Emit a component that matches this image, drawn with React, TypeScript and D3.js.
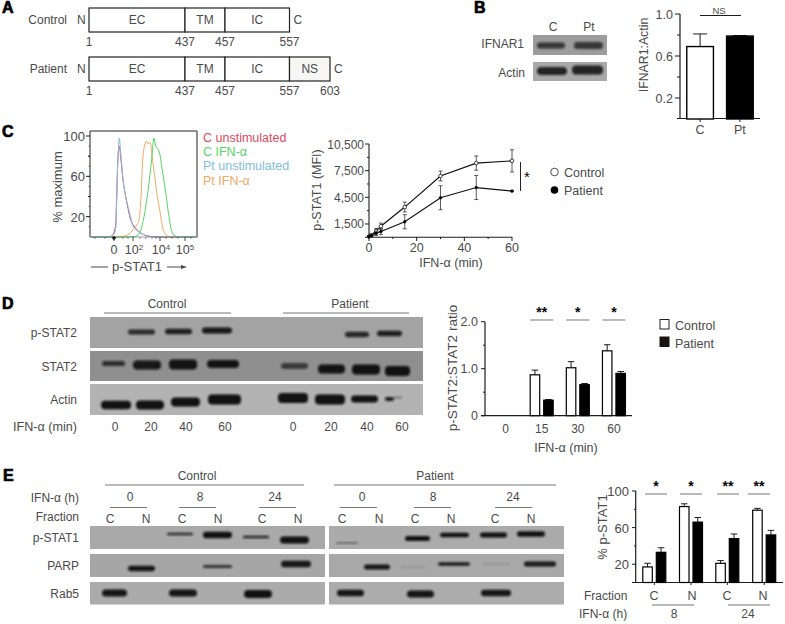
import React from "react";
import * as d3 from "d3";

const W = 785, H = 624;
const INK = "#4a4a4a", AXIS = "#1c1c1c", GREY = "#777";
const FONT = "'Liberation Sans', Arial, sans-serif";

// Panel A
const residues = [1, 437, 457, 557, 603];
const controlDomains = ["EC", "TM", "IC"];
const patientDomains = ["EC", "TM", "IC", "NS"];

// Panel B
const bCats = ["C", "Pt"];
const bValues = [0.69, 0.79];
const bTops = [0.81, 0.795];
const bTicks = [1.0, 0.6, 0.2];
const bMinor = [0.8, 0.4];

// Panel C flow histogram: channel (0-107) and % maximum
const flowBlueX = [0, 18, 22, 25, 26.5, 28, 29.3, 31, 33, 35, 38, 41, 43, 47, 52, 57, 65, 107];
const flowBlueY = [0, 0, 0.5, 5, 30, 80, 98, 80, 58, 43, 30, 18, 11, 6, 3, 1, 0, 0];
const flowRedX = [0, 18, 22, 25, 26.5, 28, 29.3, 31, 33, 35, 38, 41, 43, 47, 52, 57, 65, 107];
const flowRedY = [0, 0, 1, 8, 36, 78, 90, 76, 56, 44, 28, 16, 12, 7, 3, 1, 0, 0];
const flowOrangeX = [0, 30, 38, 43, 47, 49, 51, 53, 55, 56.5, 58, 60, 62, 65, 67, 70, 73, 76, 80, 107];
const flowOrangeY = [0, 0, 2, 7, 12, 17, 40, 80, 92, 95, 92, 94, 80, 58, 42, 25, 8, 2, 0, 0];
const flowGreenX = [0, 40, 47, 50, 53, 57, 60, 62, 64, 66, 69, 72, 76, 79, 82, 85, 90, 107];
const flowGreenY = [0, 0, 1, 5, 15, 38, 62, 80, 98, 90, 85, 68, 42, 20, 5, 1, 0, 0];
const flowLegend = ["C unstimulated", "C IFN-α", "Pt unstimulated", "Pt IFN-α"];
const flowColors = ["#dc4a5c", "#57d468", "#83bce0", "#f0aa66"];

// Panel C time course
const minutes = [0, 1, 3, 5, 15, 30, 45, 60];
const controlMfi = [100, 250, 700, 1250, 3400, 6900, 8350, 8600];
const controlErr = [50, 100, 300, 350, 550, 550, 800, 1250];
const patientMfi = [80, 200, 450, 650, 1750, 4450, 5600, 5200];
const patientErr = [40, 100, 250, 350, 800, 1350, 1350, 60];
const mfiTicks = [10500, 7500, 4500, 1500];
const mfiMinor = [9000, 6000, 3000];
const minTicks = [0, 20, 40, 60];

// Panel D bars
const dCats = ["0", "15", "30", "60"];
const dControl = [0, 0.87, 1.02, 1.38];
const dControlTop = [0, 0.97, 1.15, 1.51];
const dPatient = [0, 0.33, 0.66, 0.9];
const dPatientTop = [0, 0.345, 0.685, 0.94];
const dStars = ["", "**", "*", "*"];

// Panel E bars
const eFractions = ["C", "N", "C", "N"];
const eControl = [17, 83, 21, 79];
const eControlTop = [21, 86, 24, 81];
const ePatient = [33, 66, 48, 52];
const ePatientTop = [38, 71, 53, 57];
const eStars = ["*", "*", "**", "**"];

// Western blots: [gel start, gel end, migration, band thickness, density], gel units from blot corner
type Band = number[];
const dPStat2: Band[] = [[38, 65, 15, 5, 0.8], [75, 102, 14.5, 5.5, 0.88], [112, 142, 13.5, 6, 0.92], [255, 279, 17.5, 5.5, 0.82], [287, 312, 16.5, 5.5, 0.88]];
const dStat2: Band[] = [[12, 35, 12.5, 5, 0.75], [43, 71, 14, 9, 0.92], [79, 107, 13.5, 10, 0.95], [117, 149, 13, 8, 0.95], [191, 218, 15, 6, 0.65], [228, 255, 18, 9, 0.95], [262, 290, 18.5, 10, 0.97], [295, 320, 20, 10, 0.97]];
const dActin: Band[] = [[11, 41, 21, 8.5, 0.97], [46, 74, 21, 9, 0.97], [81, 110, 18, 9, 0.97], [118, 151, 15.5, 10, 0.97], [188, 218, 14, 10, 0.97], [225, 255, 15.5, 10, 0.97], [261, 288, 15, 7, 0.97], [295, 304, 15, 4, 0.9], [304, 312, 13.5, 1.5, 0.45]];
const eLeftPStat1: Band[] = [[77, 103, 8, 2.5, 0.8], [113, 142, 9, 6.5, 0.97], [153, 179, 11, 2.5, 0.85], [190, 219, 14, 7, 0.97]];
const eLeftParp: Band[] = [[38, 65, 14.5, 5.5, 0.94], [113, 142, 12.5, 3, 0.75], [191, 221, 10, 6.5, 0.92]];
const eLeftRab5: Band[] = [[12, 37, 11, 7, 0.94], [79, 107, 11, 7, 0.94], [154, 182, 12, 8, 0.97]];
const eRightPStat1: Band[] = [[7, 29, 17, 1.8, 0.4], [76, 101, 12.5, 5, 0.97], [111, 140, 9, 4.5, 0.97], [151, 178, 9, 5, 0.97], [188, 216, 8, 5.5, 0.97]];
const eRightParp: Band[] = [[35, 61, 13, 5, 0.94], [71, 96, 13, 2, 0.12], [109, 141, 10, 3.5, 0.9], [154, 181, 10, 2, 0.12], [195, 227, 10, 5, 0.92]];
const eRightRab5: Band[] = [[8, 35, 11, 6.5, 0.94], [78, 105, 12, 7, 0.94], [152, 182, 11, 6.5, 0.94]];
const bIfnar: Band[] = [[4, 32, 10.5, 6, 0.7], [41, 70, 10.5, 7, 0.7]];
const bActin: Band[] = [[4, 34, 9, 8, 0.85], [39, 70, 8, 9, 0.85]];

function T({ x, y, children, size = 12, anchor = "start", fill = INK, rotate, weight }: any) {
  return (
    <text x={x} y={y} fontSize={size} textAnchor={anchor} fill={fill} fontWeight={weight}
      fontFamily={FONT} transform={rotate ? `rotate(${rotate} ${x} ${y})` : undefined}>
      {children}
    </text>
  );
}

function PanelLabel({ x, y, children }: any) {
  return <text x={x} y={y} fontSize={16} fontWeight="bold" fill="#000" stroke="#000" strokeWidth={0.7} fontFamily={FONT}>{children}</text>;
}

function Blot({ x, y, w, h, bg, bands }: { x: number; y: number; w: number; h: number; bg: string; bands: Band[] }) {
  const gx = d3.scaleLinear().domain([0, w]).range([x, x + w]);
  const gy = d3.scaleLinear().domain([0, h]).range([y, y + h]);
  return (
    <g>
      <rect x={x} y={y} width={w} height={h} fill={bg} filter="url(#soft)" />
      <g clipPath={`url(#clip-${x}-${y})`}>
        <clipPath id={`clip-${x}-${y}`}><rect x={x} y={y} width={w} height={h} /></clipPath>
        {bands.map((b, i) => (
          <rect key={i} x={gx(b[0])} y={gy(b[2]) - b[3] / 2} width={gx(b[1]) - gx(b[0])} height={b[3]}
            rx={Math.min(b[3] / 2, 4)} fill="#0c0c0c" opacity={b[4]} filter="url(#blur)" />
        ))}
      </g>
    </g>
  );
}

function DomainRow({ y, domains, last, label }: any) {
  const rx = d3.scaleLinear().domain(residues).range([89, 185, 225, 289.5, 330]);
  const h = 24;
  const edges = residues.filter((r) => r <= last);
  return (
    <g>
      <T x={67} y={y + 16} anchor="end">{label}</T>
      <T x={77} y={y + 16}>N</T>
      <T x={rx(last) + 4} y={y + 16}>C</T>
      {domains.map((d: string, i: number) => {
        const x0 = rx(edges[i]), x1 = rx(edges[i + 1]);
        return (
          <g key={d}>
            <rect x={x0} y={y} width={x1 - x0} height={h} fill={d === "NS" ? "#f6f6f4" : "#fff"} stroke="#222" strokeWidth={1.2} />
            <T x={(x0 + x1) / 2} y={y + 16} anchor="middle">{d}</T>
          </g>
        );
      })}
      {edges.map((r: number) => (
        <T key={r} x={rx(r)} y={y + 37.5} anchor="middle">{r}</T>
      ))}
    </g>
  );
}

function PanelA() {
  return (
    <g>
      <PanelLabel x={2} y={13}>A</PanelLabel>
      <DomainRow y={8} domains={controlDomains} last={557} label="Control" />
      <DomainRow y={57} domains={patientDomains} last={603} label="Patient" />
    </g>
  );
}

function PanelB() {
  const y = d3.scaleLinear().domain([0, 1]).range([119, 14]);
  const x = d3.scaleBand().domain(bCats).range([680, 760]).paddingInner(0.33).paddingOuter(0.17);
  return (
    <g>
      <PanelLabel x={474} y={13}>B</PanelLabel>
      <T x={553} y={31} anchor="middle">C</T>
      <T x={589} y={31} anchor="middle">Pt</T>
      <T x={524} y={48} anchor="end">IFNAR1</T>
      <T x={525} y={77} anchor="end">Actin</T>
      <Blot x={533} y={35} w={74} h={20} bg="#9c9c9c" bands={bIfnar} />
      <Blot x={533} y={62} w={74} h={19} bg="#a9a9a9" bands={bActin} />
      <T x={647.5} y={55} anchor="middle" rotate={-90} size={12.3}>IFNAR1:Actin</T>
      <line x1={700} x2={741} y1={15.5} y2={15.5} stroke={AXIS} />
      <T x={719} y={14} anchor="middle" size={9.5}>NS</T>
      <line x1={680} x2={680} y1={14} y2={119} stroke={AXIS} strokeWidth={1.2} />
      <line x1={677} x2={760} y1={118.5} y2={118.5} stroke={AXIS} strokeWidth={1.2} />
      {bTicks.map((t) => (
        <g key={t}>
          <line x1={675} x2={680} y1={y(t)} y2={y(t)} stroke={AXIS} />
          <T x={673} y={y(t) + 4.5} anchor="end" size={12.5}>{d3.format(".1f")(t)}</T>
        </g>
      ))}
      {bMinor.map((t) => <line key={t} x1={677} x2={680} y1={y(t)} y2={y(t)} stroke={AXIS} />)}
      {bCats.map((c, i) => {
        const bx = x(c)!, bw = x.bandwidth(), cx = bx + bw / 2;
        return (
          <g key={c}>
            <line x1={cx} x2={cx} y1={y(bTops[i])} y2={y(bValues[i])} stroke={AXIS} />
            <line x1={cx - 7} x2={cx + 7} y1={y(bTops[i])} y2={y(bTops[i])} stroke={AXIS} />
            <rect x={bx} y={y(bValues[i])} width={bw} height={y(0) - y(bValues[i])} fill={i ? "#000" : "#fff"} stroke="#000" strokeWidth={1.4} />
            <line x1={cx} x2={cx} y1={119} y2={122} stroke={AXIS} />
            <T x={cx} y={134} anchor="middle" size={12.5}>{c}</T>
          </g>
        );
      })}
    </g>
  );
}

function PanelCFlow() {
  const x = d3.scaleLinear().domain([0, 107]).range([90, 197]);
  const y = d3.scaleLinear().domain([0, 100]).range([236.8, 136]);
  const line = d3.line<number>().curve(d3.curveCatmullRom.alpha(0.5));
  const mk = (xs: number[], ys: number[]) => line(xs.map((v, i) => [x(v), y(ys[i])]) as any);
  const majors = [24, 43, 70, 95];
  const labels = ["0", "10", "10", "10"];
  const sup = ["", "2", "4", "5"];
  const labelX = [24, 44, 71, 95];
  return (
    <g>
      <PanelLabel x={2} y={137}>C</PanelLabel>
      <path d={`M90 237V131H197V237`} fill="none" stroke="#222" strokeWidth={1} />
      {[100, 60, 20].map((t) => (
        <g key={t}>
          <line x1={86} x2={90} y1={y(t)} y2={y(t)} stroke={AXIS} />
          <T x={85} y={y(t) + 5} anchor="end" size={13}>{t}</T>
        </g>
      ))}
      {[80, 40].map((t) => <line key={t} x1={88} x2={90} y1={y(t)} y2={y(t)} stroke={AXIS} />)}
      {d3.range(10, 100, 10).map((t) => <line key={t} x1={88.5} x2={90} y1={y(t)} y2={y(t)} stroke={AXIS} strokeWidth={0.5} />)}
      <path d={mk(flowRedX, flowRedY)!} fill="none" stroke={flowColors[0]} strokeWidth={1} />
      <path d={mk(flowOrangeX, flowOrangeY)!} fill="none" stroke={flowColors[3]} strokeWidth={1} />
      <path d={mk(flowGreenX, flowGreenY)!} fill="none" stroke={flowColors[1]} strokeWidth={1} />
      <path d={mk(flowBlueX, flowBlueY)!} fill="none" stroke={flowColors[2]} strokeWidth={1} />
      <line x1={90} x2={197} y1={237} y2={237} stroke="#2b2b2b" strokeWidth={0.8} opacity={0.55} />
      <circle cx={x(24)} cy={238} r={1.8} fill="#111" />
      {majors.map((m) => <line key={m} x1={x(m)} x2={x(m)} y1={237} y2={241} stroke={AXIS} strokeWidth={0.8} />)}
      {[5, 15, 33, 38, 50, 56, 62, 66, 76, 82, 88, 101].map((m) => <line key={m} x1={x(m)} x2={x(m)} y1={237} y2={239} stroke={AXIS} strokeWidth={0.5} />)}
      {labels.map((l, i) => (
        <T key={i} x={x(labelX[i])} y={254} anchor="middle" size={12.5}>
          {l}{sup[i] && <tspan fontSize={8} dy={-4}>{sup[i]}</tspan>}
        </T>
      ))}
      <T x={137} y={271} anchor="middle" size={13}>p-STAT1</T>
      <line x1={91} x2={108} y1={267} y2={267} stroke={INK} />
      <line x1={167} x2={184} y1={267} y2={267} stroke={INK} />
      <path d="M187 267L181 265V269Z" fill={INK} />
      <T x={62} y={187} anchor="middle" rotate={-90} size={13}>% maximum</T>
      {flowLegend.map((l, i) => (
        <T key={l} x={203} y={142 + i * 14.2} size={12.5} fill={flowColors[i]}>{l}</T>
      ))}
    </g>
  );
}

function PanelCLine() {
  const x = d3.scaleLinear().domain([0, 60]).range([369, 512]);
  const y = d3.scaleLinear().domain([0, 10500]).range([237.3, 144]);
  const line = d3.line<number>().x((_, i) => x(minutes[i])).y((d) => y(d));
  const series = [
    { v: controlMfi, e: controlErr, open: true },
    { v: patientMfi, e: patientErr, open: false },
  ];
  return (
    <g>
      <T x={321} y={190} anchor="middle" rotate={-90} size={12.5}>p-STAT1 (MFI)</T>
      <line x1={369} x2={369} y1={144} y2={237.3} stroke={AXIS} strokeWidth={1.1} />
      <line x1={365} x2={512} y1={237.3} y2={237.3} stroke={AXIS} strokeWidth={1.1} />
      {mfiTicks.map((t) => (
        <g key={t}>
          <line x1={365} x2={369} y1={y(t)} y2={y(t)} stroke={AXIS} />
          <T x={364} y={y(t) + 4.5} anchor="end" size={12}>{d3.format(",")(t)}</T>
        </g>
      ))}
      {mfiMinor.map((t) => <line key={t} x1={367} x2={369} y1={y(t)} y2={y(t)} stroke={AXIS} />)}
      {minTicks.map((t) => (
        <g key={t}>
          <line x1={x(t)} x2={x(t)} y1={237} y2={241} stroke={AXIS} />
          <T x={x(t)} y={252} anchor="middle" size={12.5}>{t}</T>
        </g>
      ))}
      {[10, 30, 50].map((t) => <line key={t} x1={x(t)} x2={x(t)} y1={237} y2={239} stroke={AXIS} />)}
      <T x={451} y={267} anchor="middle" size={12.5}>IFN-α (min)</T>
      {series.map((s, k) => (
        <g key={k}>
          <path d={line(s.v)!} fill="none" stroke="#111" strokeWidth={1.2} />
          {s.v.map((v, i) => (
            <g key={i} stroke="#333" strokeWidth={0.8}>
              <line x1={x(minutes[i])} x2={x(minutes[i])} y1={y(v + s.e[i])} y2={y(Math.max(0, v - s.e[i]))} />
              <line x1={x(minutes[i]) - 2} x2={x(minutes[i]) + 2} y1={y(v + s.e[i])} y2={y(v + s.e[i])} />
              <line x1={x(minutes[i]) - 2} x2={x(minutes[i]) + 2} y1={y(Math.max(0, v - s.e[i]))} y2={y(Math.max(0, v - s.e[i]))} />
            </g>
          ))}
          {s.v.map((v, i) => (
            <circle key={i} cx={x(minutes[i])} cy={y(v)} r={s.open ? 1.8 : 1.3} fill={s.open ? "#fff" : "#000"} stroke="#000" strokeWidth={0.7} />
          ))}
        </g>
      ))}
      <line x1={520.5} x2={520.5} y1={162} y2={191} stroke="#222" />
      <T x={527} y={182} anchor="middle" size={15} fill="#000">*</T>
      <circle cx={554.5} cy={172} r={3.8} fill="#fff" stroke="#222" strokeWidth={0.8} />
      <circle cx={554.5} cy={190} r={3.8} fill="#000" />
      <T x={564} y={177} size={12.5}>Control</T>
      <T x={564} y={195} size={12.5}>Patient</T>
    </g>
  );
}

function PanelDBlots() {
  const lanes = ["0", "20", "40", "60"];
  const cx = [115, 151, 186, 225], px = [293, 331, 367, 402];
  const rows = [
    { n: "p-STAT2", y: 317, h: 31, bg: "#a3a3a3", b: dPStat2 },
    { n: "STAT2", y: 351, h: 30, bg: "#8f8f8f", b: dStat2 },
    { n: "Actin", y: 384, h: 31, bg: "#b3b3b3", b: dActin },
  ];
  return (
    <g>
      <PanelLabel x={2} y={309}>D</PanelLabel>
      <T x={167} y={308} anchor="middle">Control</T>
      <T x={350} y={308} anchor="middle">Patient</T>
      <line x1={104} x2={231} y1={313} y2={313} stroke={GREY} />
      <line x1={283} x2={409} y1={313} y2={313} stroke={GREY} />
      {rows.map((r) => (
        <g key={r.n}>
          <Blot x={90} y={r.y} w={333} h={r.h} bg={r.bg} bands={r.b} />
          <T x={77} y={r.y + 20} anchor="end">{r.n}</T>
        </g>
      ))}
      <T x={13} y={431} size={12.6}>IFN-α (min)</T>
      {lanes.map((l, i) => <T key={"c" + i} x={cx[i]} y={431} anchor="middle">{l}</T>)}
      {lanes.map((l, i) => <T key={"p" + i} x={px[i]} y={431} anchor="middle">{l}</T>)}
    </g>
  );
}

function PanelDBars() {
  const y = d3.scaleLinear().domain([0, 2]).range([415.7, 321.7]);
  const x = d3.scaleBand().domain(dCats).range([487.5, 632]).padding(0);
  const bw = 9.5, gap = 4;
  const off = (c: string) => x(c)! + x.bandwidth() / 2;
  const renderBar = (c: string, v: number, top: number, left: boolean) => {
    if (!v) return null;
    const m = off(c);
    const bx = left ? m - gap / 2 - bw : m + gap / 2;
    return (
      <g key={c + left}>
        <line x1={bx + bw / 2} x2={bx + bw / 2} y1={y(top)} y2={y(v)} stroke={AXIS} />
        <line x1={bx + 1.5} x2={bx + bw - 1.5} y1={y(top)} y2={y(top)} stroke={AXIS} />
        <rect x={bx} y={y(v)} width={bw} height={y(0) - y(v)} fill={left ? "#fff" : "#000"} stroke="#000" strokeWidth={1.2} />
      </g>
    );
  };
  return (
    <g>
      <T x={457} y={368} anchor="middle" rotate={-90} size={13.6}>p-STAT2:STAT2 ratio</T>
      <line x1={485} x2={485} y1={321.7} y2={415.7} stroke={AXIS} strokeWidth={1.2} />
      <line x1={481} x2={632} y1={415.7} y2={415.7} stroke={AXIS} strokeWidth={1.2} />
      {[2, 1, 0].map((t) => (
        <g key={t}>
          <line x1={481} x2={485} y1={y(t)} y2={y(t)} stroke={AXIS} />
          <T x={478} y={y(t) + 4.5} anchor="end" size={12.5}>{t === 0 ? "0" : d3.format(".1f")(t)}</T>
        </g>
      ))}
      {[1.5, 0.5].map((t) => <line key={t} x1={483} x2={485} y1={y(t)} y2={y(t)} stroke={AXIS} />)}
      {dCats.map((c, i) => (
        <g key={c}>
          {renderBar(c, dControl[i], dControlTop[i], true)}
          {renderBar(c, dPatient[i], dPatientTop[i], false)}
          <T x={off(c)} y={433} anchor="middle" size={12}>{c}</T>
          {dStars[i] && (
            <g>
              <line x1={off(c) - 11.5} x2={off(c) + 11.5} y1={320} y2={320} stroke={GREY} />
              <T x={off(c)} y={317} anchor="middle" size={14} fill="#000" weight="bold">{dStars[i]}</T>
            </g>
          )}
        </g>
      ))}
      <T x={566} y={452} anchor="middle" size={12.5}>IFN-α (min)</T>
      <rect x={660} y={319.5} width={9} height={9.5} fill="#fff" stroke="#222" />
      <rect x={660} y={337} width={9} height={9.5} fill="#1a1210" stroke="#1a1210" />
      <T x={675} y={329.5} size={12.5}>Control</T>
      <T x={675} y={348} size={12.5}>Patient</T>
    </g>
  );
}

function PanelEBlots() {
  const timesLabels = ["0", "8", "24"];
  const fracs = ["C", "N", "C", "N", "C", "N"];
  const left = { t: [130, 200, 275], l: [[110, 147], [179, 216], [259, 296]], f: [110, 146, 182, 218, 262, 298] };
  const right = { t: [362, 433, 513], l: [[340, 377], [414, 451], [495, 532]], f: [342, 379, 415, 451, 495, 531] };
  const rows = [
    { n: "p-STAT1", y: 526, h: 23, bgL: "#a9a9a9", bgR: "#ababab", l: eLeftPStat1, r: eRightPStat1 },
    { n: "PARP", y: 554, h: 23, bgL: "#a6a6a6", bgR: "#a8a8a8", l: eLeftParp, r: eRightParp },
    { n: "Rab5", y: 582, h: 22.5, bgL: "#ababab", bgR: "#acacac", l: eLeftRab5, r: eRightRab5 },
  ];
  return (
    <g>
      <PanelLabel x={3} y={481}>E</PanelLabel>
      <T x={197} y={480} anchor="middle">Control</T>
      <T x={435} y={480} anchor="middle">Patient</T>
      <line x1={105} x2={304} y1={485} y2={485} stroke={GREY} />
      <line x1={334} x2={556} y1={485} y2={485} stroke={GREY} />
      <T x={79} y={502} anchor="end">IFN-α (h)</T>
      <T x={79} y={521} anchor="end">Fraction</T>
      {[left, right].map((g, gi) => (
        <g key={gi}>
          {timesLabels.map((t, i) => (
            <g key={t}>
              <T x={g.t[i]} y={501} anchor="middle">{t}</T>
              <line x1={g.l[i][0]} x2={g.l[i][1]} y1={507.5} y2={507.5} stroke={GREY} />
            </g>
          ))}
          {fracs.map((f, i) => <T key={i} x={g.f[i]} y={523} anchor="middle">{f}</T>)}
        </g>
      ))}
      {rows.map((r) => (
        <g key={r.n}>
          <Blot x={90} y={r.y} w={235} h={r.h} bg={r.bgL} bands={r.l} />
          <Blot x={329} y={r.y} w={235} h={r.h} bg={r.bgR} bands={r.r} />
          <T x={79} y={r.y + 16} anchor="end">{r.n}</T>
        </g>
      ))}
    </g>
  );
}

function PanelEBars() {
  const y = d3.scaleLinear().domain([0, 100]).range([582.5, 491]);
  const starLines = [[645, 667], [680, 702], [717, 739], [748, 770]];
  const bw = 9.5, gap = 4;
  const m = [654.3, 691, 727.3, 764.2];
  const bar = (cx: number, v: number, top: number, left: boolean) => {
    const bx = left ? cx - gap / 2 - bw : cx + gap / 2;
    return (
      <g key={cx + "" + left}>
        <line x1={bx + bw / 2} x2={bx + bw / 2} y1={y(top)} y2={y(v)} stroke={AXIS} />
        <line x1={bx + 1.5} x2={bx + bw - 1.5} y1={y(top)} y2={y(top)} stroke={AXIS} />
        <rect x={bx} y={y(v)} width={bw} height={y(0) - y(v)} fill={left ? "#fff" : "#000"} stroke="#000" strokeWidth={1.2} />
      </g>
    );
  };
  return (
    <g>
      <T x={607} y={527} anchor="middle" rotate={-90} size={13}>% p-STAT1</T>
      <line x1={635.7} x2={635.7} y1={491} y2={582.5} stroke={AXIS} strokeWidth={1.2} />
      <line x1={632} x2={783} y1={582.5} y2={582.5} stroke={AXIS} strokeWidth={1.2} />
      {[100, 60, 20].map((t) => (
        <g key={t}>
          <line x1={632} x2={636} y1={y(t)} y2={y(t)} stroke={AXIS} />
          <T x={629} y={y(t) + 5} anchor="end" size={13}>{t}</T>
        </g>
      ))}
      {[80, 40].map((t) => <line key={t} x1={634} x2={636} y1={y(t)} y2={y(t)} stroke={AXIS} />)}
      {eFractions.map((f, i) => (
        <g key={i}>
          {bar(m[i], eControl[i], eControlTop[i], true)}
          {bar(m[i], ePatient[i], ePatientTop[i], false)}
          <line x1={m[i]} x2={m[i]} y1={582.5} y2={585} stroke={AXIS} />
          <T x={[654, 692, 727, 763][i]} y={599.5} anchor="middle" size={12.5}>{f}</T>
          <line x1={starLines[i][0]} x2={starLines[i][1]} y1={494} y2={494} stroke={GREY} />
          <T x={(starLines[i][0] + starLines[i][1]) / 2} y={491} anchor="middle" size={14} fill="#000" weight="bold">{eStars[i]}</T>
        </g>
      ))}
      <T x={584} y={599.5} size={12}>Fraction</T>
      <T x={579} y={618} size={12}>IFN-α (h)</T>
      <line x1={652} x2={694} y1={605} y2={605} stroke={GREY} strokeWidth={1.2} />
      <line x1={728} x2={770} y1={605} y2={605} stroke={GREY} strokeWidth={1.2} />
      <T x={674} y={618} anchor="middle" size={12}>8</T>
      <T x={748} y={618} anchor="middle" size={12}>24</T>
    </g>
  );
}

export default function App() {
  return (
    <svg width={W} height={H} viewBox={`0 0 ${W} ${H}`} style={{ position: "absolute", left: 0, top: 0, display: "block", background: "#fff" }}>
      <defs>
        <filter id="blur" x="-20%" y="-60%" width="140%" height="220%"><feGaussianBlur stdDeviation="0.9" /></filter>
        <filter id="soft"><feGaussianBlur stdDeviation="0.3" /></filter>
      </defs>
      <PanelA />
      <PanelB />
      <PanelCFlow />
      <PanelCLine />
      <PanelDBlots />
      <PanelDBars />
      <PanelEBlots />
      <PanelEBars />
    </svg>
  );
}
